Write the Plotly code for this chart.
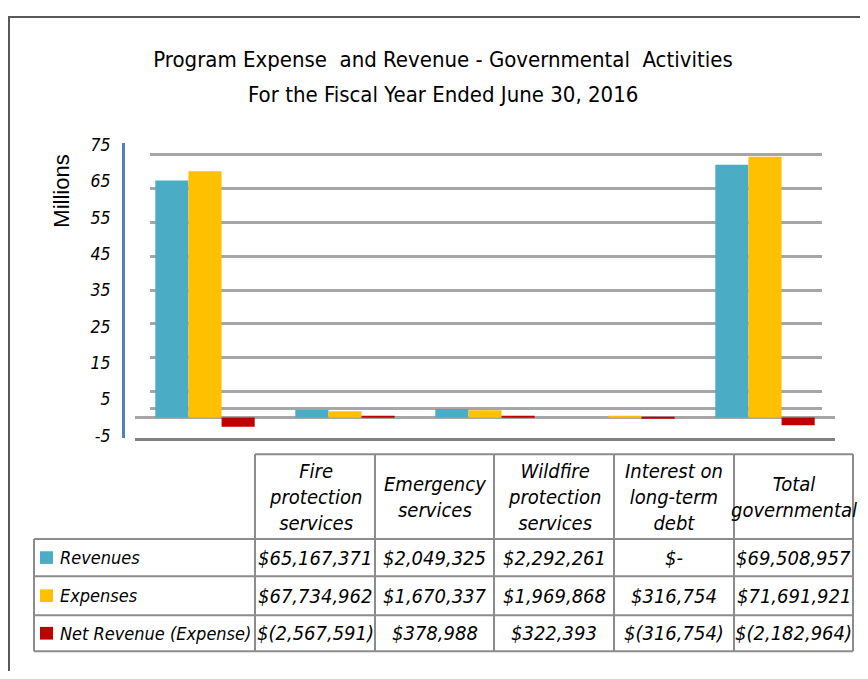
import plotly.graph_objects as go

# ---------------- data ----------------
categories = ["Fire protection services", "Emergency services",
              "Wildfire protection services", "Interest on long-term debt",
              "Total governmental"]
header_labels = ["Fire<br>protection<br>services", "Emergency<br>services",
                 "Wildfire<br>protection<br>services", "Interest on<br>long-term<br>debt",
                 "Total<br>governmental"]
series_names = ["Revenues", "Expenses", "Net Revenue (Expense)"]
revenues = [65167371, 2049325, 2292261, 0, 69508957]
expenses = [67734962, 1670337, 1969868, 316754, 71691921]
net_revenue = [-2567591, 378988, 322393, -316754, -2182964]
y_tick_values = [-5, 5, 15, 25, 35, 45, 55, 65, 75]
grid_values = [0, 5, 15, 25, 35, 45, 55, 65, 75]
series_colors = ["#4BACC6", "#FFC000", "#C00000"]
title_line1 = "Program Expense  and Revenue - Governmental  Activities"
title_line2 = "For the Fiscal Year Ended June 30, 2016"

# page has an 8px body margin; the figure fills the rest of the 868x679 window
OFF = 8
W, H = 868 - 2 * OFF, 679 - 2 * OFF
FONT = "DejaVu Sans Condensed, Liberation Sans, Arial, sans-serif"


def px(x):
    return (x - OFF) / W


def py(y):
    return 1 - (y - OFF) / H


def fmt(v):
    if v == 0:
        return "$-"
    if v < 0:
        return "$({:,})".format(-v)
    return "${:,}".format(v)


series_values = [revenues, expenses, net_revenue]

fig = go.Figure()

# invisible trace to hold the back-wall grid subplot
fig.add_trace(go.Scatter(x=[categories[0]], y=[0], mode="markers",
                         marker=dict(opacity=0), hoverinfo="skip",
                         showlegend=False, xaxis="x", yaxis="y"))

for name, vals, col in zip(series_names, series_values, series_colors):
    fig.add_trace(go.Bar(x=categories, y=[v / 1e6 for v in vals], name=name,
                         marker=dict(color=col, line=dict(width=0)),
                         showlegend=False, xaxis="x2", yaxis="y2"))

y_dom = [py(440), py(138)]

shapes = []
annotations = []

# outer border
shapes.append(dict(type="rect", xref="paper", yref="paper",
                   x0=px(9), x1=px(900), y0=py(720), y1=py(9),
                   line=dict(color="#595959", width=2), fillcolor="rgba(0,0,0,0)"))

# ---------------- data table ----------------
col_edges = [255, 375, 494, 614, 734, 853]
label_left = 34
header_top, header_bottom = 457, 544
row_edges = [544, 582, 622, 659]
line_style = dict(color="#8C8C8C", width=2)

for x in col_edges:
    shapes.append(dict(type="line", xref="paper", yref="paper",
                       x0=px(x), x1=px(x), y0=py(row_edges[-1]), y1=py(header_top),
                       line=line_style))
shapes.append(dict(type="line", xref="paper", yref="paper",
                   x0=px(label_left), x1=px(label_left),
                   y0=py(row_edges[-1]), y1=py(header_bottom), line=line_style))
shapes.append(dict(type="line", xref="paper", yref="paper",
                   x0=px(col_edges[0]), x1=px(col_edges[-1]),
                   y0=py(header_top), y1=py(header_top), line=line_style))
for y in row_edges:
    shapes.append(dict(type="line", xref="paper", yref="paper",
                       x0=px(label_left), x1=px(col_edges[-1]),
                       y0=py(y), y1=py(y), line=line_style))

value_font = dict(family=FONT, size=20, color="#000000")
label_font = dict(family=FONT, size=18, color="#000000")

for i, lab in enumerate(header_labels):
    cx = (col_edges[i] + col_edges[i + 1]) / 2
    annotations.append(dict(xref="paper", yref="paper", x=px(cx),
                            y=py((header_top + header_bottom) / 2),
                            text="<i>" + lab + "</i>", showarrow=False,
                            xanchor="center", yanchor="middle", align="center",
                            font=value_font))

for r, (name, vals, col) in enumerate(zip(series_names, series_values, series_colors)):
    cy = (row_edges[r] + row_edges[r + 1]) / 2
    shapes.append(dict(type="rect", xref="paper", yref="paper",
                       x0=px(40), x1=px(53), y0=py(cy + 6.5), y1=py(cy - 6.5),
                       fillcolor=col, line=dict(width=0)))
    annotations.append(dict(xref="paper", yref="paper", x=px(58), y=py(cy),
                            text="<i>" + name + "</i>", showarrow=False,
                            xanchor="left", yanchor="middle", font=label_font))
    for i, v in enumerate(vals):
        cx = (col_edges[i] + col_edges[i + 1]) / 2
        annotations.append(dict(xref="paper", yref="paper", x=px(cx), y=py(cy),
                                text="<i>" + fmt(v) + "</i>", showarrow=False,
                                xanchor="center", yanchor="middle", font=value_font))

# second title line
annotations.append(dict(xref="paper", yref="paper", x=px(443), y=py(88),
                        text=title_line2, showarrow=False,
                        xanchor="center", yanchor="middle",
                        font=dict(family=FONT, size=22, color="#000000")))

# "Millions" axis label
annotations.append(dict(xref="paper", yref="paper", x=px(62), y=py(188),
                        text="Millions", textangle=-90, showarrow=False,
                        xanchor="center", yanchor="middle",
                        font=dict(family="Liberation Sans, Arial, sans-serif",
                                  size=22, color="#000000")))

fig.update_layout(
    width=W, height=H, autosize=False,
    margin=dict(l=0, r=0, t=0, b=0),
    paper_bgcolor="white", plot_bgcolor="rgba(0,0,0,0)",
    barmode="group", bargap=0.29, bargroupgap=0,
    title=dict(text=title_line1, x=px(443), y=py(52), xref="paper", yref="paper",
               xanchor="center", yanchor="middle",
               font=dict(family=FONT, size=22, color="#000000")),
    xaxis=dict(domain=[px(150), px(822)], anchor="y", showticklabels=False,
               showgrid=False, zeroline=False, showline=False, ticks="",
               categoryorder="array", categoryarray=categories),
    yaxis=dict(domain=y_dom, anchor="x", range=[-8.57, 78.46],
               tickvals=grid_values, showticklabels=False, ticks="",
               showgrid=True, gridcolor="#A6A6A6", gridwidth=3,
               zeroline=False, showline=False),
    xaxis2=dict(domain=[px(135), px(835)], anchor="y2", showticklabels=False,
                showgrid=False, zeroline=False, ticks="",
                showline=True, linecolor="#808080", linewidth=3,
                categoryorder="array", categoryarray=categories),
    yaxis2=dict(domain=y_dom, anchor="free", position=px(123),
                range=[-5.54, 75.54], tickvals=y_tick_values,
                ticktext=[str(v) for v in y_tick_values],
                ticks="", ticklabelstandoff=8,
                tickfont=dict(family=FONT, size=17.5, color="#000000", style="italic"),
                showgrid=False, zeroline=True, zerolinecolor="#A6A6A6",
                zerolinewidth=3, showline=True, linecolor="#4F81BD", linewidth=3),
    shapes=shapes,
    annotations=annotations,
)

fig.write_html("out.html")
